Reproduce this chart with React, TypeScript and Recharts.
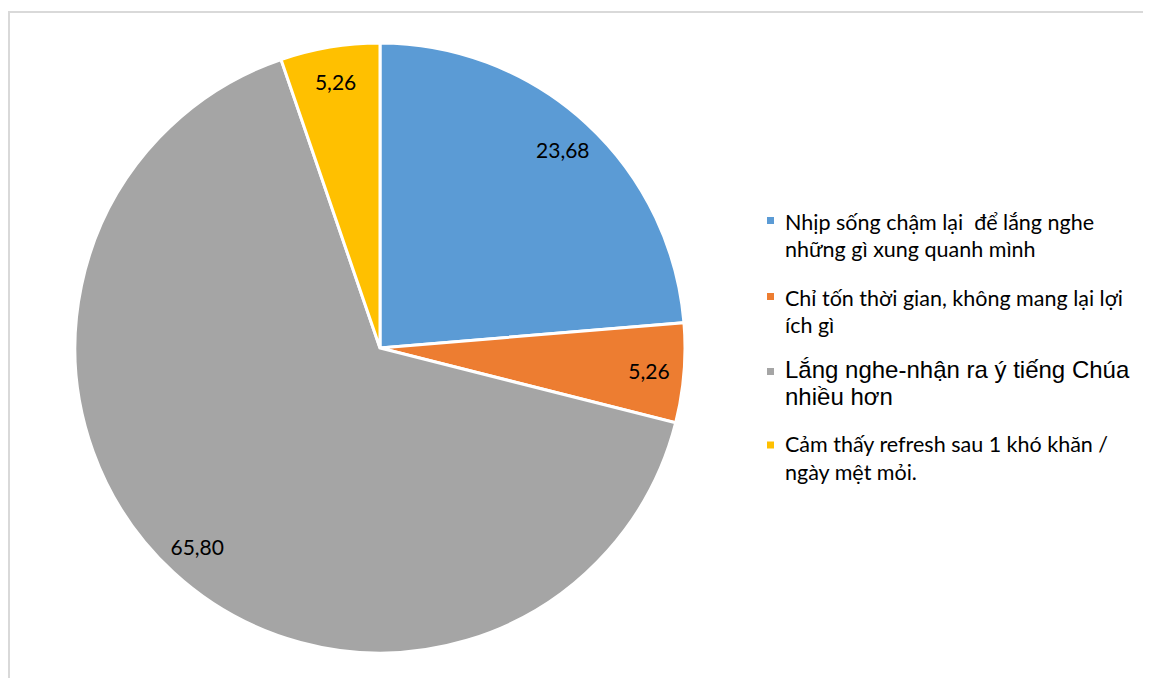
import React from "react";
import { PieChart, Pie, Cell } from "recharts";

const categories = [
  "Nhịp sống chậm lại  để lắng nghe những gì xung quanh mình",
  "Chỉ tốn thời gian, không mang lại lợi ích gì",
  "Lắng nghe-nhận ra ý tiếng Chúa nhiều hơn",
  "Cảm thấy refresh sau 1 khó khăn / ngày mệt mỏi.",
];
const legendLines = [
  ["Nhịp sống chậm lại  để lắng nghe", "những gì xung quanh mình"],
  ["Chỉ tốn thời gian, không mang lại lợi", "ích gì"],
  ["Lắng nghe-nhận ra ý tiếng Chúa", "nhiều hơn"],
  ["Cảm thấy refresh sau 1 khó khăn /", "ngày mệt mỏi."],
];
const values = [23.68, 5.26, 65.8, 5.26];
const valueLabels = ["23,68", "5,26", "65,80", "5,26"];
const colors = ["#5B9BD5", "#ED7D31", "#A5A5A5", "#FFC000"];

const data = categories.map((name, i) => ({ name, value: values[i], label: valueLabels[i] }));

const RAD = Math.PI / 180;

const renderLabel = (props: any) => {
  const { cx, cy, midAngle, outerRadius, index } = props;
  const r = outerRadius * 0.885;
  const x = cx + r * Math.cos(-midAngle * RAD);
  const y = cy + r * Math.sin(-midAngle * RAD);
  return (
    <text
      x={x}
      y={y}
      textAnchor="middle"
      dominantBaseline="central"
      fill="#000"
      fontFamily="Lato, 'Open Sans', sans-serif"
      fontSize={21}
    >
      {valueLabels[index]}
    </text>
  );
};

// legend layout (svg coords)
const legendBaselines = [
  [222, 248.5],
  [297.5, 325],
  [370, 397],
  [444, 472],
];
const legendSquareY = [212.5, 288.5, 363.5, 437];

const LegendSvg = () => (
  <svg
    width={1143}
    height={670}
    style={{ position: "absolute", left: 0, top: 0, pointerEvents: "none" }}
  >
    {legendLines.map((lines, i) => (
      <g key={i}>
        <rect x={759} y={legendSquareY[i] - 3.5} width={7} height={7} fill={colors[i]} />
        {lines.map((l, j) => (
          <text
            key={j}
            x={777}
            y={legendBaselines[i][j]}
            fill="#000"
            fontFamily={i === 2 ? "'Liberation Sans', Arial, sans-serif" : "Lato, 'Open Sans', sans-serif"}
            fontSize={i === 2 ? 24 : 21.5}
            style={{ whiteSpace: "pre" }}
          >
            {l}
          </text>
        ))}
      </g>
    ))}
  </svg>
);

export default function App() {
  return (
    <div style={{ position: "relative", width: 1143, height: 670, overflow: "hidden" }}>
      <div
        style={{
          position: "absolute",
          left: 0,
          top: 3,
          width: 1300,
          height: 800,
          border: "2px solid #d9d9d9",
          boxSizing: "border-box",
        }}
      />
      <div style={{ position: "absolute", left: 0, top: 0 }}>
        <PieChart width={1143} height={670} margin={{ top: 0, right: 0, bottom: 0, left: 0 }}>
          <Pie
            data={data}
            dataKey="value"
            nameKey="name"
            cx={372}
            cy={340}
            outerRadius={305}
            startAngle={90}
            endAngle={-270}
            stroke="#fff"
            strokeWidth={3}
            label={renderLabel}
            labelLine={false}
            isAnimationActive={false}
          >
            {data.map((d, i) => (
              <Cell key={i} fill={colors[i]} />
            ))}
          </Pie>
        </PieChart>
      </div>
      <LegendSvg />
    </div>
  );
}
